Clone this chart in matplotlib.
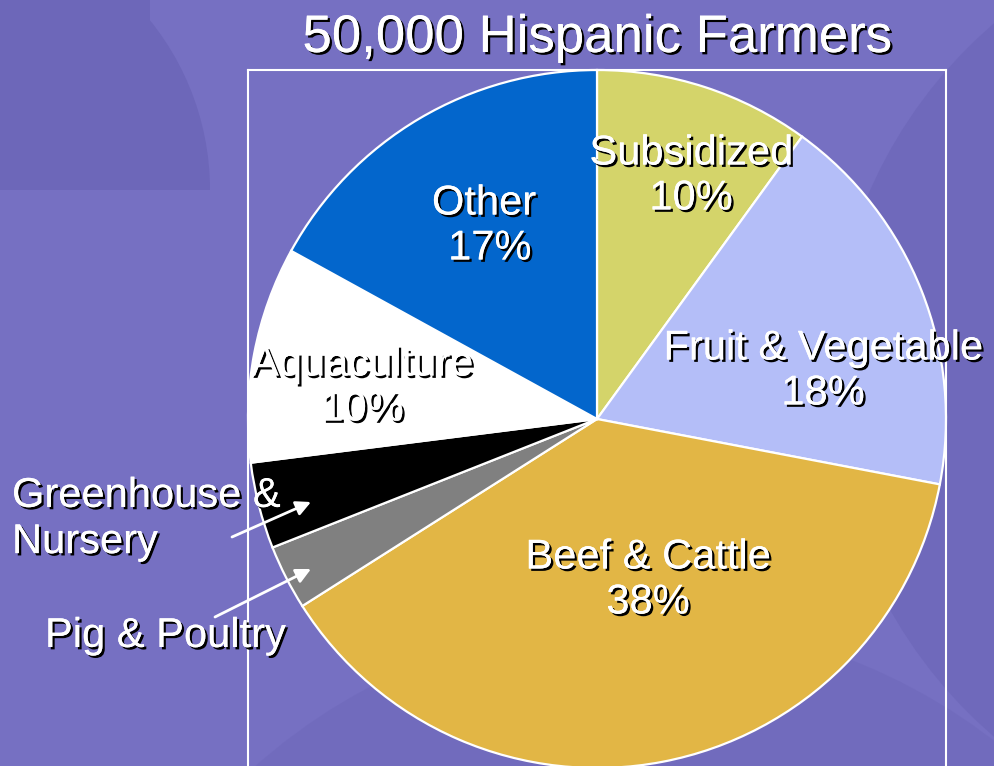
import matplotlib
matplotlib.use("Agg")
import matplotlib.pyplot as plt
import matplotlib.patheffects as pe
from matplotlib.patches import Circle, Rectangle, FancyArrowPatch

# ---- data ----
categories = ["Subsidized", "Fruit & Vegetable", "Beef & Cattle", "Pig & Poultry",
              "Greenhouse & Nursery", "Aquaculture", "Other"]
values = [10, 18, 38, 3, 4, 10, 17]
colors = ["#D4D46A", "#B4BEF8", "#E2B645", "#808080", "#000000", "#FFFFFF", "#0366CC"]
title = "50,000 Hispanic Farmers"

W, H = 994, 766
BG = "#7670C2"
plt.rcParams['font.family'] = ['Liberation Sans', 'DejaVu Sans']

fig = plt.figure(figsize=(W / 100, H / 100), dpi=100)
fig.patch.set_facecolor(BG)

# subtle background decoration (template shapes)
bgax = fig.add_axes([0, 0, 1, 1])
bgax.set_xlim(0, W)
bgax.set_ylim(H, 0)
bgax.axis("off")
dark = "#6D67B9"
bgax.add_patch(Rectangle((0, 0), 150, 190, color=dark, lw=0, zorder=0))
bgax.add_patch(Circle((-60, 190), 270, color=dark, lw=0, zorder=0))
bgax.add_patch(Rectangle((-400, 190), 1000, 900, color=BG, lw=0, zorder=0.5))
bgax.add_patch(Circle((1300, 380), 470, color=dark, lw=0, zorder=0.6, alpha=0.7))
bgax.add_patch(Circle((640, 1200), 580, color=dark, lw=0, zorder=0.6, alpha=0.45))

shadow = [pe.withSimplePatchShadow(offset=(1.7, -1.7), shadow_rgbFace="black", alpha=1.0),
          pe.Normal()]

# pie axes (frame = white rectangle)
left, top, size = 248, 70, 698
ax = fig.add_axes([left / W, (H - top - size) / H, size / W, size / H])
ax.set_facecolor("none")
ax.pie(values, colors=colors, startangle=90, counterclock=False, radius=1.0,
       wedgeprops=dict(edgecolor="white", linewidth=1.6))
ax.set_xlim(-1, 1)
ax.set_ylim(-1, 1)
ax.set_aspect("equal")
ax.set_frame_on(True)
for s in ax.spines.values():
    s.set_color("white")
    s.set_linewidth(1.5)
ax.set_xticks([])
ax.set_yticks([])

def fx(px):
    return px / W

def fy(py):
    return 1 - py / H

fig.text(fx(597), fy(38), title, ha="center", va="center", fontsize=38,
         color="white", path_effects=shadow)

label_fs = 30
inner_labels = [
    ("Subsidized\n10%", 691, 176),
    ("Fruit & Vegetable\n18%", 823, 371),
    ("Beef & Cattle\n38%", 648, 580),
    ("Aquaculture\n10%", 362, 387),
    ("Other\n 17%", 484, 226),
]
for txt, x, y in inner_labels:
    fig.text(fx(x), fy(y), txt, ha="center", va="center", fontsize=label_fs,
             color="white", linespacing=1.16, multialignment="center",
             path_effects=shadow)

fig.text(fx(12), fy(519), "Greenhouse &\nNursery", ha="left", va="center",
         fontsize=label_fs, color="white", linespacing=1.2, path_effects=shadow)
fig.text(fx(45), fy(636), "Pig & Poultry", ha="left", va="center",
         fontsize=label_fs, color="white", path_effects=shadow)

arrow = dict(arrowstyle="-|>", color="white", lw=2, mutation_scale=22,
             shrinkA=0, shrinkB=0)
fig.add_artist(FancyArrowPatch(
    (fx(232), fy(537)), (fx(311), fy(502)), transform=fig.transFigure, **arrow))
fig.add_artist(FancyArrowPatch(
    (fx(215), fy(617)), (fx(311), fy(569)), transform=fig.transFigure, **arrow))

fig.savefig("out.png", dpi=100, facecolor=BG)
